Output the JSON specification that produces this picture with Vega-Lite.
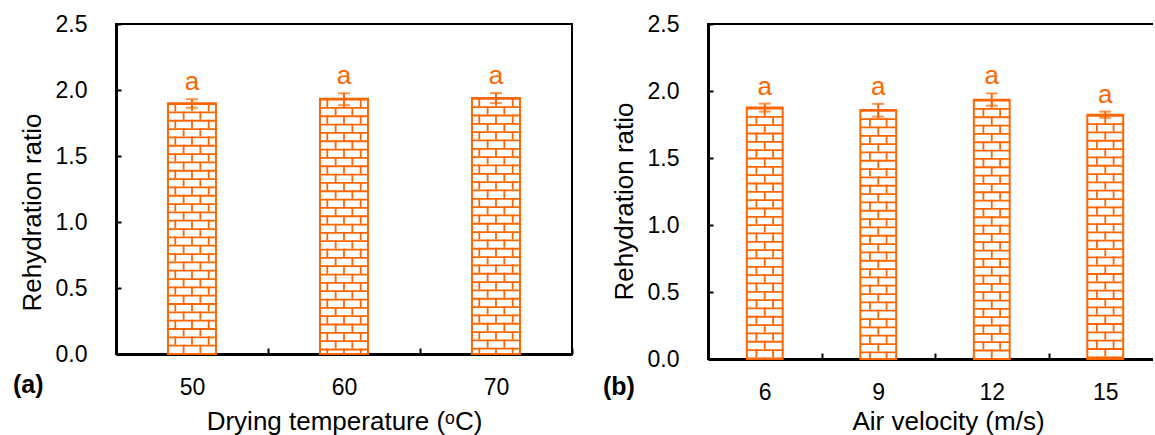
{
  "$schema": "https://vega.github.io/schema/vega-lite/v6.json",
  "background": "white",
  "padding": {"left": 12, "top": 12, "right": -11, "bottom": 9},
  "spacing": 28,
  "hconcat": [
    {
      "width": 456,
      "height": 330,
      "data": {"values": [
        {"t": "50", "mean": 1.90, "lower": 1.866, "upper": 1.93},
        {"t": "60", "mean": 1.934, "lower": 1.885, "upper": 1.975},
        {"t": "70", "mean": 1.94, "lower": 1.9, "upper": 1.977}
      ]},
      "title": {"text": "(a)", "orient": "bottom", "anchor": "start", "frame": "bounds", "offset": -61, "dx": -6, "fontSize": 25, "fontWeight": "bold", "font": "Liberation Sans", "color": "black"},
      "encoding": {
        "x": {"field": "t", "type": "ordinal", "sort": null, "scale": {"paddingInner": 0, "paddingOuter": 0},
          "axis": {"title": "Drying temperature (ᵒC)", "labelAngle": 0, "tickBand": "extent", "tickSize": -6, "labelPadding": 28, "titlePadding": 9}}
      },
      "layer": [
        {"mark": {"type": "bar", "width": {"band": 0.316}, "fill": "white"},
         "encoding": {"y": {"field": "mean", "type": "quantitative", "title": "Rehydration ratio", "scale": {"domain": [0, 2.5], "nice": false},
           "axis": {"values": [0, 0.25, 0.5, 0.75, 1, 1.25, 1.5, 1.75, 2, 2.25, 2.5], "labelExpr": "datum.value * 2 == round(datum.value * 2) ? format(datum.value, '.1f') : ''", "tickSize": -5, "labelPadding": 34, "titlePadding": 10, "titleY": 188, "labelFlush": false}}}},
        {"mark": {"type": "rule", "strokeWidth": 47, "strokeDash": [1.8, 6.53], "color": "#FF6600"},
         "encoding": {"y": {"field": "mean", "type": "quantitative", "title": "Rehydration ratio"}, "y2": {"datum": 0}}},
        {"mark": {"type": "rule", "strokeWidth": 1.8, "strokeDash": [8.33, 8.33], "color": "#FF6600", "xOffset": 0},
         "encoding": {"y": {"field": "mean", "type": "quantitative", "title": "Rehydration ratio"}, "y2": {"datum": 0}}},
        {"mark": {"type": "rule", "strokeWidth": 1.8, "strokeDash": [8.33, 8.33], "color": "#FF6600", "xOffset": -16.7},
         "encoding": {"y": {"field": "mean", "type": "quantitative", "title": "Rehydration ratio"}, "y2": {"datum": 0}}},
        {"mark": {"type": "rule", "strokeWidth": 1.8, "strokeDash": [8.33, 8.33], "color": "#FF6600", "xOffset": 16.7},
         "encoding": {"y": {"field": "mean", "type": "quantitative", "title": "Rehydration ratio"}, "y2": {"datum": 0}}},
        {"mark": {"type": "rule", "strokeWidth": 1.8, "strokeDash": [8.33, 8.33], "strokeDashOffset": 8.33, "color": "#FF6600", "xOffset": -8.35},
         "encoding": {"y": {"field": "mean", "type": "quantitative", "title": "Rehydration ratio"}, "y2": {"datum": 0}}},
        {"mark": {"type": "rule", "strokeWidth": 1.8, "strokeDash": [8.33, 8.33], "strokeDashOffset": 8.33, "color": "#FF6600", "xOffset": 8.35},
         "encoding": {"y": {"field": "mean", "type": "quantitative", "title": "Rehydration ratio"}, "y2": {"datum": 0}}},
        {"mark": {"type": "bar", "width": {"band": 0.316}, "fill": "transparent", "stroke": "#FF6600", "strokeWidth": 2},
         "encoding": {"y": {"field": "mean", "type": "quantitative", "title": "Rehydration ratio"}}},
        {"mark": {"type": "errorbar", "ticks": {"size": 12}, "thickness": 2, "color": "#FF6600"},
         "encoding": {"y": {"field": "lower", "type": "quantitative", "title": "Rehydration ratio"}, "y2": {"field": "upper"}}},
        {"mark": {"type": "text", "text": "a", "dy": -9, "baseline": "alphabetic", "fontSize": 26, "color": "#FF6600", "font": "Liberation Sans"},
         "encoding": {"y": {"field": "upper", "type": "quantitative", "title": "Rehydration ratio"}}}
      ]
    },
    {
      "width": 454,
      "height": 335,
      "data": {"values": [
        {"v": "6", "mean": 1.876, "lower": 1.846, "upper": 1.906},
        {"v": "9", "mean": 1.859, "lower": 1.809, "upper": 1.904},
        {"v": "12", "mean": 1.935, "lower": 1.89, "upper": 1.982},
        {"v": "15", "mean": 1.822, "lower": 1.80, "upper": 1.846}
      ]},
      "title": {"text": "(b)", "orient": "bottom", "anchor": "start", "frame": "bounds", "offset": -59, "dx": -8, "fontSize": 25, "fontWeight": "bold", "font": "Liberation Sans", "color": "black"},
      "encoding": {
        "x": {"field": "v", "type": "ordinal", "sort": null, "scale": {"paddingInner": 0, "paddingOuter": 0},
          "axis": {"title": "Air velocity (m/s)", "labelAngle": 0, "tickBand": "extent", "tickSize": -6, "labelPadding": 28, "titlePadding": 4, "titleX": 240}}
      },
      "layer": [
        {"mark": {"type": "bar", "width": {"band": 0.316}, "fill": "white"},
         "encoding": {"y": {"field": "mean", "type": "quantitative", "title": "Rehydration ratio", "scale": {"domain": [0, 2.5], "nice": false},
           "axis": {"values": [0, 0.25, 0.5, 0.75, 1, 1.25, 1.5, 1.75, 2, 2.25, 2.5], "labelExpr": "datum.value * 2 == round(datum.value * 2) ? format(datum.value, '.1f') : ''", "tickSize": -5, "labelPadding": 34, "titlePadding": 10, "titleY": 177, "labelFlush": false}}}},
        {"mark": {"type": "rule", "strokeWidth": 35, "strokeDash": [1.8, 6.53], "color": "#FF6600"},
         "encoding": {"y": {"field": "mean", "type": "quantitative", "title": "Rehydration ratio"}, "y2": {"datum": 0}}},
        {"mark": {"type": "rule", "strokeWidth": 1.8, "strokeDash": [8.33, 8.33], "color": "#FF6600", "xOffset": 0},
         "encoding": {"y": {"field": "mean", "type": "quantitative", "title": "Rehydration ratio"}, "y2": {"datum": 0}}},
        {"mark": {"type": "rule", "strokeWidth": 1.8, "strokeDash": [8.33, 8.33], "strokeDashOffset": 8.33, "color": "#FF6600", "xOffset": -8.35},
         "encoding": {"y": {"field": "mean", "type": "quantitative", "title": "Rehydration ratio"}, "y2": {"datum": 0}}},
        {"mark": {"type": "rule", "strokeWidth": 1.8, "strokeDash": [8.33, 8.33], "strokeDashOffset": 8.33, "color": "#FF6600", "xOffset": 8.35},
         "encoding": {"y": {"field": "mean", "type": "quantitative", "title": "Rehydration ratio"}, "y2": {"datum": 0}}},
        {"mark": {"type": "bar", "width": {"band": 0.316}, "fill": "transparent", "stroke": "#FF6600", "strokeWidth": 2},
         "encoding": {"y": {"field": "mean", "type": "quantitative", "title": "Rehydration ratio"}}},
        {"mark": {"type": "errorbar", "ticks": {"size": 12}, "thickness": 2, "color": "#FF6600"},
         "encoding": {"y": {"field": "lower", "type": "quantitative", "title": "Rehydration ratio"}, "y2": {"field": "upper"}}},
        {"mark": {"type": "text", "text": "a", "dy": -9, "baseline": "alphabetic", "fontSize": 26, "color": "#FF6600", "font": "Liberation Sans"},
         "encoding": {"y": {"field": "upper", "type": "quantitative", "title": "Rehydration ratio"}}}
      ]
    }
  ],
  "config": {
    "view": {"stroke": "black", "strokeWidth": 2},
    "axis": {"labelFont": "Liberation Sans", "titleFont": "Liberation Sans", "labelFontSize": 23, "titleFontSize": 26, "labelColor": "black", "titleColor": "black", "titleFontWeight": "normal", "grid": false, "domainColor": "black", "domainWidth": 3, "tickColor": "black", "tickWidth": 2, "ticks": true, "zindex": 1}
  }
}
